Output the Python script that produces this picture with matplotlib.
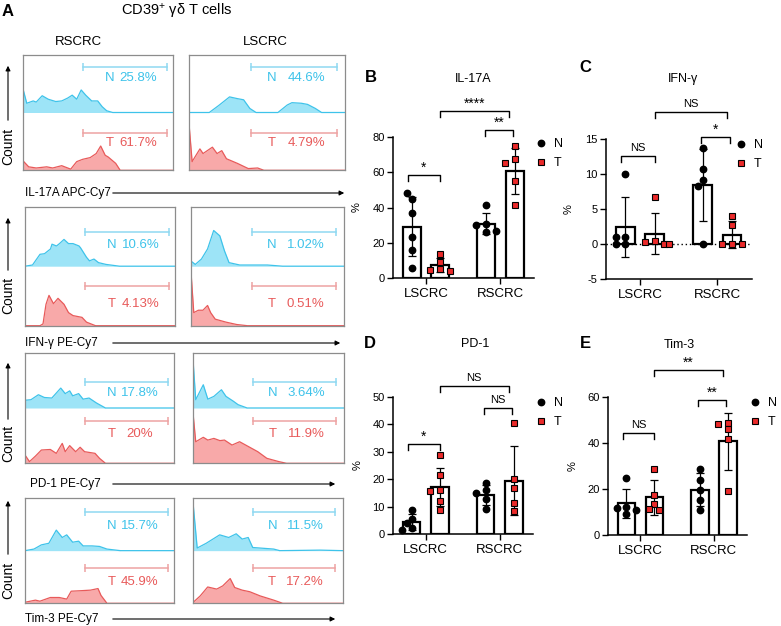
import numpy as np
import matplotlib
matplotlib.use("Agg")
import matplotlib.pyplot as plt
from matplotlib.patches import FancyArrowPatch
from matplotlib.lines import Line2D

plt.rcParams["font.family"] = ["Liberation Sans", "DejaVu Sans"]
plt.rcParams["axes.unicode_minus"] = False
plt.rcParams["mathtext.default"] = "regular"

W, H = 781, 626

# ---------------- panel A: flow histograms ----------------
COLUMNS = ["RSCRC", "LSCRC"]
CHANNELS = ["IL-17A APC-Cy7", "IFN-γ PE-Cy7", "PD-1 PE-Cy7", "Tim-3 PE-Cy7"]
N_PCT = [["25.8%", "44.6%"], ["10.6%", "1.02%"], ["17.8%", "3.64%"], ["15.7%", "11.5%"]]
T_PCT = [["61.7%", "4.79%"], ["4.13%", "0.51%"], ["20%", "11.9%"], ["45.9%", "17.2%"]]

# (x fraction of box, height fraction of half box)
IL17_RS_N = [(0, 0.43), (0.027, 0.16), (0.07, 0.2), (0.09, 0.18), (0.13, 0.29), (0.17, 0.23),
             (0.22, 0.19), (0.26, 0.2), (0.3, 0.25), (0.33, 0.30), (0.36, 0.23), (0.39, 0.39),
             (0.42, 0.30), (0.46, 0.2), (0.5, 0.2), (0.53, 0.1), (0.56, 0.03), (0.6, 0), (1, 0)]
IL17_RS_T = [(0, 0.17), (0.04, 0.06), (0.09, 0.04), (0.16, 0.06), (0.2, 0.04), (0.26, 0.08),
             (0.32, 0.02), (0.36, 0.15), (0.4, 0.19), (0.45, 0.22), (0.49, 0.29), (0.52, 0.42),
             (0.55, 0.26), (0.57, 0.23), (0.62, 0.12), (0.65, 0), (1, 0)]
IL17_LS_N = [(0, 0), (0.13, 0), (0.19, 0.12), (0.26, 0.27), (0.31, 0.24), (0.35, 0.22),
             (0.39, 0.07), (0.43, 0), (0.57, 0), (0.63, 0.13), (0.66, 0.17), (0.72, 0.16),
             (0.76, 0.14), (0.81, 0.07), (0.85, 0), (1, 0)]
IL17_LS_T = [(0, 0.81), (0.02, 0.15), (0.07, 0.37), (0.09, 0.29), (0.15, 0.40), (0.18, 0.29),
             (0.21, 0.34), (0.24, 0.2), (0.31, 0.12), (0.38, 0.03), (0.44, 0.04), (0.48, 0), (1, 0)]

IFNG_RS_N = [(0, 0), (0.05, 0.02), (0.1, 0.2), (0.13, 0.21), (0.17, 0.29), (0.18, 0.37),
             (0.21, 0.34), (0.23, 0.38), (0.26, 0.45), (0.29, 0.38), (0.32, 0.38), (0.36, 0.34),
             (0.37, 0.31), (0.41, 0.15), (0.43, 0.09), (0.46, 0.12), (0.49, 0.06), (0.54, 0.03),
             (0.63, 0), (1, 0)]
IFNG_RS_T = [(0, 0), (0.1, 0), (0.12, 0.03), (0.14, 0.36), (0.16, 0.51), (0.19, 0.37),
             (0.22, 0.46), (0.26, 0.36), (0.29, 0.22), (0.32, 0.17), (0.36, 0.15), (0.38, 0.14),
             (0.41, 0.06), (0.47, 0), (1, 0)]
IFNG_LS_N = [(0, 0.09), (0.03, 0.03), (0.07, 0.12), (0.11, 0.29), (0.15, 0.6), (0.19, 0.51),
             (0.22, 0.26), (0.25, 0.06), (0.32, 0.02), (0.5, 0.02), (0.6, 0), (1, 0)]
IFNG_LS_T = [(0, 0.98), (0.02, 0.22), (0.05, 0.26), (0.08, 0.26), (0.11, 0.34), (0.13, 0.22),
             (0.16, 0.11), (0.23, 0.06), (0.3, 0.02), (0.37, 0), (1, 0)]

PD1_RS_N = [(0, 0.14), (0.04, 0.15), (0.09, 0.24), (0.13, 0.19), (0.18, 0.18), (0.24, 0.36),
            (0.27, 0.26), (0.3, 0.31), (0.32, 0.22), (0.36, 0.26), (0.39, 0.16), (0.43, 0.18),
            (0.48, 0.09), (0.54, 0), (1, 0)]
PD1_RS_T = [(0, 0.15), (0.03, 0.03), (0.07, 0.13), (0.11, 0.24), (0.17, 0.25), (0.21, 0.18),
            (0.25, 0.36), (0.27, 0.21), (0.3, 0.32), (0.34, 0.21), (0.37, 0.29), (0.4, 0.21),
            (0.47, 0.18), (0.5, 0.09), (0.54, 0), (1, 0)]
PD1_LS_N = [(0, 0.96), (0.02, 0.15), (0.07, 0.42), (0.1, 0.16), (0.14, 0.21), (0.19, 0.33),
            (0.22, 0.21), (0.27, 0.12), (0.3, 0.06), (0.36, 0), (1, 0)]
PD1_LS_T = [(0, 0.97), (0.02, 0.39), (0.07, 0.47), (0.1, 0.42), (0.14, 0.45), (0.18, 0.41),
            (0.21, 0.42), (0.26, 0.33), (0.31, 0.39), (0.37, 0.3), (0.43, 0.21), (0.49, 0.09),
            (0.57, 0.03), (0.62, 0), (1, 0)]

TIM3_RS_N = [(0, 0), (0.06, 0.03), (0.11, 0.11), (0.16, 0.14), (0.21, 0.39), (0.25, 0.25),
             (0.28, 0.3), (0.32, 0.16), (0.36, 0.18), (0.39, 0.09), (0.45, 0.09), (0.5, 0.08),
             (0.55, 0.03), (0.64, 0), (1, 0)]
TIM3_RS_T = [(0, 0.02), (0.07, 0.06), (0.1, 0.04), (0.17, 0.11), (0.23, 0.11), (0.28, 0.08),
             (0.31, 0.23), (0.38, 0.24), (0.44, 0.25), (0.49, 0.28), (0.51, 0.15), (0.55, 0), (1, 0)]
TIM3_LS_N = [(0, 0.98), (0.03, 0.05), (0.09, 0.14), (0.18, 0.3), (0.24, 0.25), (0.29, 0.32),
             (0.33, 0.22), (0.37, 0.25), (0.4, 0.06), (0.54, 0.03), (0.58, 0), (0.85, 0.01), (1, 0)]
TIM3_LS_T = [(0, 0.01), (0.05, 0.14), (0.1, 0.31), (0.16, 0.27), (0.2, 0.33), (0.25, 0.47),
             (0.28, 0.3), (0.33, 0.25), (0.38, 0.22), (0.45, 0.14), (0.54, 0.06), (0.6, 0), (1, 0)]

HIST_N = [[IL17_RS_N, IL17_LS_N], [IFNG_RS_N, IFNG_LS_N], [PD1_RS_N, PD1_LS_N], [TIM3_RS_N, TIM3_LS_N]]
HIST_T = [[IL17_RS_T, IL17_LS_T], [IFNG_RS_T, IFNG_LS_T], [PD1_RS_T, PD1_LS_T], [TIM3_RS_T, TIM3_LS_T]]

# ---------------- panels B-E: percentages per patient ----------------
GROUPS = ["LSCRC", "RSCRC"]
B_LS_N = [44.9, 48.1, 36.9, 23.0, 15.8, 5.9]
B_LS_T = [13.7, 9.1, 5.3, 4.4, 4.2]
B_RS_N = [41.3, 30.6, 30.0, 26.0, 26.6]
B_RS_T = [74.9, 67.3, 65.4, 54.8, 41.3]

C_LS_N = [10.0, 1.05, 1.05, 0, 0]
C_LS_T = [6.8, 0.5, 0.3, 0, 0]
C_RS_N = [13.8, 10.7, 9.2, 8.4, 0]
C_RS_T = [4.1, 2.7, 0, 0, 0]

D_LS_N = [8.7, 5.6, 3.9, 2.1, 1.5]
D_LS_T = [28.6, 21.5, 16.0, 15.7, 12.0, 8.9]
D_RS_N = [18.4, 15.9, 15.0, 12.6, 9.0]
D_RS_T = [40.3, 20.1, 16.9, 11.2, 8.5]

E_LS_N = [25.1, 12.5, 12.0, 11.0, 9.3]
E_LS_T = [29.0, 17.4, 13.5, 11.3, 11.0]
E_RS_N = [29.0, 24.1, 19.7, 15.4, 11.0]
E_RS_T = [49.0, 48.3, 46.1, 41.9, 19.3]

B_SIG = ["*", "**", "****"]
C_SIG = ["NS", "*", "NS"]
D_SIG = ["*", "NS", "NS"]
E_SIG = ["NS", "**", "**"]

BLUE, BLUE_FILL, BLUE_GATE = "#3ec3ea", "#9de4f7", "#8fd9f1"
RED, RED_FILL, RED_GATE = "#e85a5a", "#f8a9a9", "#eea3a3"
SQ_RED = "#ea2a2a"

fig = plt.figure(figsize=(W / 100, H / 100), dpi=100)


def px_axes(l, t, r, b):
    return fig.add_axes([l / W, 1 - b / H, (r - l) / W, (b - t) / H])


def fig_arrow(x0, y0, x1, y1):
    fig.add_artist(FancyArrowPatch((x0 / W, 1 - y0 / H), (x1 / W, 1 - y1 / H),
                                   transform=fig.transFigure, arrowstyle="-|>",
                                   mutation_scale=7, lw=0.8, color="k"))


fig.text(8 / W, 1 - 12 / H, "A", fontsize=12, fontweight="bold", ha="center", va="center")
fig.text(177 / W, 1 - 11 / H, "CD39$^{+}$ γδ T cells", fontsize=10.5, ha="center", va="center")
fig.text(78 / W, 1 - 42 / H, COLUMNS[0], fontsize=9.5, ha="center", va="center")
fig.text(265 / W, 1 - 42 / H, COLUMNS[1], fontsize=9.5, ha="center", va="center")

row_box = [(54.7, 170.3), (206.7, 325.7), (352.7, 463.3), (498, 603.3)]
col_box = [[(22.7, 172.7), (189, 345)], [(25, 175), (190.7, 344)],
           [(25, 174), (192.7, 344)], [(25, 174), (192.7, 342.7)]]
gate_x = [(0.40, 0.96), (0.40, 0.95)]
text_x = [(0.58, 0.77), (0.53, 0.75)]
gate_y = [(0.79, 0.60, 0.65, 0.48), (0.58, 0.36, 0.67, 0.36),
          (0.47, 0.28, 0.77, 0.53), (0.73, 0.46, 0.67, 0.40)]
label_y = [193, 343, 484, 619]
label_x = [25, 25, 30, 25]
arrow_end = [347, 343, 338, 338]
count_pos = [(63, 123, 146), (215, 273, 295), (360, 422, 443), (498, 557, 580)]

for r in range(4):
    top, bot = row_box[r]
    gN, tN, gT, tT = gate_y[r]
    for c in range(2):
        l, rr = col_box[r][c]
        ax = px_axes(l, top, rr, bot)
        ax.set_xlim(0, 1)
        ax.set_ylim(0, 2)
        ax.set_xticks([])
        ax.set_yticks([])
        for s in ax.spines.values():
            s.set_color("#8c8c8c")
            s.set_linewidth(0.9)
        n = np.array(HIST_N[r][c])
        t = np.array(HIST_T[r][c])
        ax.fill_between(n[:, 0], 1, 1 + n[:, 1], color=BLUE_FILL, lw=0)
        ax.plot(n[:, 0], 1 + n[:, 1], color=BLUE, lw=0.9)
        ax.fill_between(t[:, 0], 0, t[:, 1], color=RED_FILL, lw=0)
        ax.plot(t[:, 0], t[:, 1], color=RED, lw=0.9)
        x1, x2 = gate_x[c]
        ax.plot([x1, x2], [1 + gN, 1 + gN], color=BLUE_GATE, lw=1.1, marker="|", ms=6, mew=1.1)
        ax.plot([x1, x2], [gT, gT], color=RED_GATE, lw=1.1, marker="|", ms=6, mew=1.1)
        lx, vx = text_x[c]
        ax.text(lx, 1 + tN, "N", color=BLUE, fontsize=9.5, ha="center", va="center")
        ax.text(vx, 1 + tN, N_PCT[r][c], color=BLUE, fontsize=9.5, ha="center", va="center")
        ax.text(lx, tT, "T", color=RED, fontsize=9.5, ha="center", va="center")
        ax.text(vx, tT, T_PCT[r][c], color=RED, fontsize=9.5, ha="center", va="center")

    fig.text(label_x[r] / W, 1 - label_y[r] / H, CHANNELS[r], fontsize=8.5, ha="left", va="center")
    fig_arrow(110, label_y[r], arrow_end[r], label_y[r])
    a_top, a_bot, cy = count_pos[r]
    fig_arrow(8, a_bot, 8, a_top)
    fig.text(8 / W, 1 - cy / H, "Count", fontsize=10, rotation=90, ha="center", va="center")


# ---------------- bar charts ----------------
def swarm_x(ax, xc, vals, diam=7.0):
    trans = ax.transData
    pts = trans.transform(np.column_stack([np.full(len(vals), xc), vals]))
    placed = []
    for px, py in pts:
        for k in (0, -1, 1, -2, 2, -3, 3):
            cx = px + k * diam * 0.7
            if all(np.hypot(cx - qx, py - qy) >= diam * 0.95 for qx, qy in placed):
                break
        placed.append((cx, py))
    xs = trans.inverted().transform(np.array(placed))[:, 0]
    return xs


panels = [
    dict(rect=(393, 137, 534, 278), letter="B", lpos=(371, 78), title="IL-17A", tpos=(473, 79),
         ylim=(0, 80), yticks=[0, 20, 40, 60, 80], data=[B_LS_N, B_LS_T, B_RS_N, B_RS_T],
         sig=B_SIG, sig_y=[58.6, 84.2, 94.7], zero=False, leg=(543, 147)),
    dict(rect=(606, 139.3, 752, 279.3), letter="C", lpos=(585, 68), title="IFN-γ", tpos=(683, 79),
         ylim=(-5, 15), yticks=[-5, 0, 5, 10, 15], data=[C_LS_N, C_LS_T, C_RS_N, C_RS_T],
         sig=C_SIG, sig_y=[12.6, 15.4, 18.9], zero=True, leg=(743, 148)),
    dict(rect=(393, 396.7, 533, 534), letter="D", lpos=(370, 343), title="PD-1", tpos=(475, 344),
         ylim=(0, 50), yticks=[0, 10, 20, 30, 40, 50], data=[D_LS_N, D_LS_T, D_RS_N, D_RS_T],
         sig=D_SIG, sig_y=[32.8, 45.8, 53.9], zero=False, leg=(543, 406)),
    dict(rect=(608, 397.3, 747, 535.3), letter="E", lpos=(585, 343), title="Tim-3", tpos=(679, 345),
         ylim=(0, 60), yticks=[0, 20, 40, 60], data=[E_LS_N, E_LS_T, E_RS_N, E_RS_T],
         sig=E_SIG, sig_y=[44.6, 58.8, 71.9], zero=False, leg=(757, 406)),
]

bar_x = [-0.19, 0.19, 0.81, 1.19]
bracket_x = [(-0.24, 0.19), (0.79, 1.17), (0.19, 1.12)]

for p in panels:
    l, t, r, b = p["rect"]
    ax = px_axes(l, t, r, b)
    ax.set_xlim(-0.44, 1.45)
    ax.set_ylim(*p["ylim"])
    ax.set_yticks(p["yticks"])
    ax.set_xticks([0, 1])
    ax.set_xticklabels(GROUPS, fontsize=9.5)
    ax.tick_params(axis="y", labelsize=8, length=4, width=1, pad=2)
    ax.tick_params(axis="x", length=4, width=1, pad=3)
    for s in ["top", "right"]:
        ax.spines[s].set_visible(False)
    for s in ["left", "bottom"]:
        ax.spines[s].set_linewidth(1.1)
    ax.set_ylabel("%", fontsize=8)
    ax.yaxis.set_label_coords(-0.22, 0.5)
    if p["zero"]:
        ax.axhline(0, color="k", lw=1, ls=(0, (1, 2)), zorder=1)

    for i, vals in enumerate(p["data"]):
        vals = np.array(vals)
        m, sd = vals.mean(), vals.std(ddof=1)
        ax.bar(bar_x[i], m, width=0.24, facecolor="white", edgecolor="k", linewidth=1.6, zorder=2)
        ax.errorbar(bar_x[i], m, yerr=sd, fmt="none", ecolor="k", elinewidth=0.9,
                    capsize=3, capthick=0.9, zorder=3, clip_on=False)
        xs = swarm_x(ax, bar_x[i], vals)
        if i % 2 == 0:
            ax.plot(xs, vals, "o", color="k", ms=4.6, zorder=4, clip_on=False)
        else:
            ax.plot(xs, vals, "s", mfc=SQ_RED, mec="k", mew=0.8, ms=5, zorder=4, clip_on=False)

    span = p["ylim"][1] - p["ylim"][0]
    leg = 0.045 * span
    for (x1, x2), y, lab in zip(bracket_x, p["sig_y"], p["sig"]):
        ax.plot([x1, x1, x2, x2], [y - leg, y, y, y - leg], color="k", lw=1, clip_on=False)
        star = lab.startswith("*")
        ax.annotate(lab, ((x1 + x2) / 2, y), xytext=(0, 0 if star else 2), textcoords="offset points",
                    ha="center", va="bottom", fontsize=10 if star else 8,
                    annotation_clip=False)

    handles = [Line2D([], [], ls="none", marker="o", color="k", ms=4.6),
               Line2D([], [], ls="none", marker="s", mfc=SQ_RED, mec="k", mew=0.8, ms=5)]
    mx, my = p["leg"]
    ax.legend(handles, ["N", "T"], loc="upper left",
              bbox_to_anchor=((mx - 8 - l) / (r - l), (b - my + 9) / (b - t)),
              frameon=False, fontsize=9, handlelength=1.0, handletextpad=0.5,
              labelspacing=0.55, borderpad=0, borderaxespad=0)

    fig.text(p["lpos"][0] / W, 1 - p["lpos"][1] / H, p["letter"], fontsize=12,
             fontweight="bold", ha="center", va="center")
    fig.text(p["tpos"][0] / W, 1 - p["tpos"][1] / H, p["title"], fontsize=9,
             ha="center", va="center")

fig.savefig("out.png", dpi=100)
